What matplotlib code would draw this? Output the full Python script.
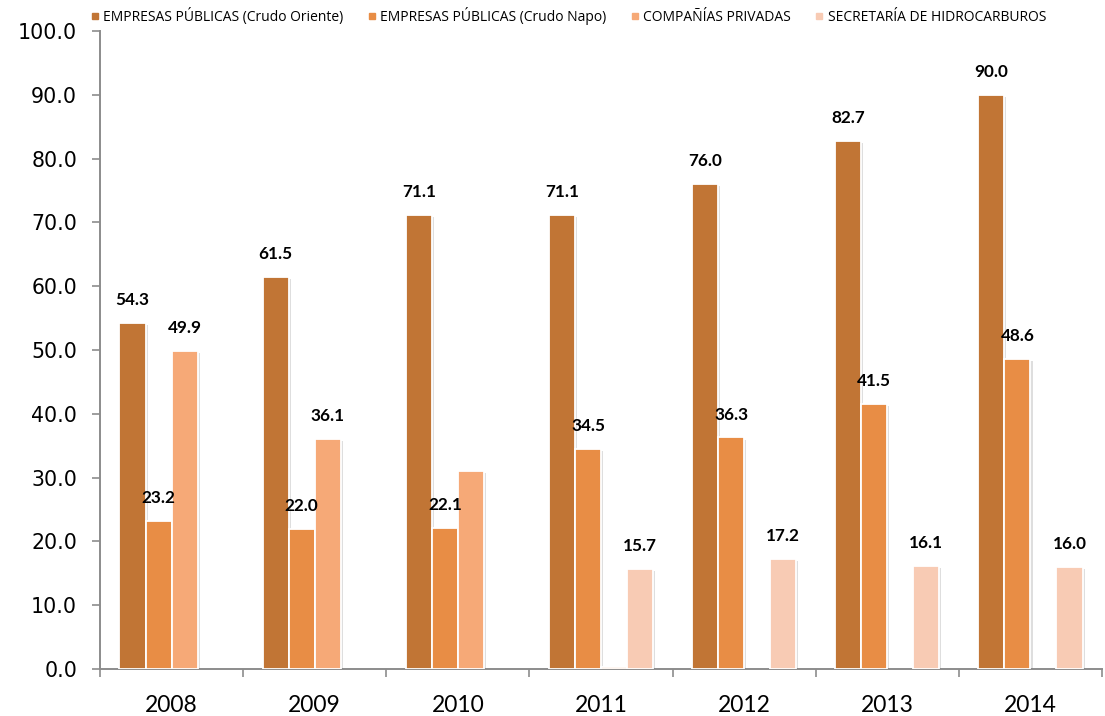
import numpy as np
import matplotlib
matplotlib.use("Agg")
import matplotlib.pyplot as plt
from matplotlib.lines import Line2D
from matplotlib import patheffects as pe

years = ["2008", "2009", "2010", "2011", "2012", "2013", "2014"]
series_names = [
    "EMPRESAS PÚBLICAS (Crudo Oriente)",
    "EMPRESAS PÚBLICAS (Crudo Napo)",
    "COMPAÑÍAS PRIVADAS",
    "SECRETARÍA DE HIDROCARBUROS",
]
crudo_oriente = [54.3, 61.5, 71.1, 71.1, 76.0, 82.7, 90.0]
crudo_napo = [23.2, 22.0, 22.1, 34.5, 36.3, 41.5, 48.6]
companias_privadas = [49.9, 36.1, 31.1, 0.3, np.nan, np.nan, np.nan]
secretaria = [np.nan, np.nan, np.nan, 15.7, 17.2, 16.1, 16.0]
# which values carry a printed label (None = unlabeled bar)
labels_privadas = ["49.9", "36.1", None, None, None, None, None]

colors = ["#C17535", "#E88D45", "#F6A977", "#F8CBB4"]

series = [crudo_oriente, crudo_napo, companias_privadas, secretaria]
labels = [
    [f"{v:.1f}" for v in crudo_oriente],
    [f"{v:.1f}" for v in crudo_napo],
    labels_privadas,
    [None if np.isnan(v) else f"{v:.1f}" for v in secretaria],
]

fig = plt.figure(figsize=(11.05, 7.16), dpi=100)
ax = fig.add_axes([0.0905, 0.0656, 0.9068, 0.8911])

x = np.arange(len(years))
w = 0.182
shadow = [pe.SimplePatchShadow(offset=(1.5, -1.5), shadow_rgbFace="#7f7f7f", alpha=0.25),
          pe.Normal()]

for i, (vals, col, labs) in enumerate(zip(series, colors, labels)):
    pos = x + (i - 1.5) * w
    bars = ax.bar(pos, vals, width=w, color=col, edgecolor="white", linewidth=1.3,
                  zorder=3)
    for b in bars:
        b.set_path_effects(shadow)
    for p, v, lab in zip(pos, vals, labs):
        if lab is None or np.isnan(v):
            continue
        ax.annotate(lab, (p, v), xytext=(0, 16.5), textcoords="offset points",
                    ha="center", va="center", fontsize=12.3, fontweight="bold",
                    family="Lato", color="black", zorder=5)

ax.set_xlim(-0.5, len(years) - 0.5)
ax.set_ylim(0, 100)
ax.set_yticks(np.arange(0, 101, 10))
ax.set_yticklabels([f"{v:.1f}" for v in np.arange(0, 101, 10)], fontsize=14.8,
                   family="DejaVu Sans")

# category boundaries as major ticks, year labels on minor ticks
ax.set_xticks(np.arange(-0.5, len(years), 1.0))
ax.set_xticklabels([])
ax.set_xticks(x, minor=True)
ax.set_xticklabels(years, minor=True, fontsize=16.5, family="Lato")
ax.tick_params(axis="x", which="major", length=6, width=1.2, color="#8c8c8c",
               direction="out")
ax.tick_params(axis="x", which="minor", length=0, pad=19)
ax.tick_params(axis="y", length=6, width=1.2, color="#8c8c8c", direction="out",
               pad=10.5)

for s in ["top", "right"]:
    ax.spines[s].set_visible(False)
for s in ["left", "bottom"]:
    ax.spines[s].set_color("#8c8c8c")
    ax.spines[s].set_linewidth(1.4)

handles = [Line2D([], [], marker="s", linestyle="none", markersize=5,
                  markerfacecolor=c, markeredgecolor=c) for c in colors]
fig.legend(handles, series_names, loc="upper left", bbox_to_anchor=(0.077, 0.998),
           ncol=4, frameon=False, prop={"family": "Open Sans", "size": 10},
           handlelength=0.6, handletextpad=0.3, columnspacing=1.75,
           borderaxespad=0.0)

fig.savefig("out.png", dpi=100)
